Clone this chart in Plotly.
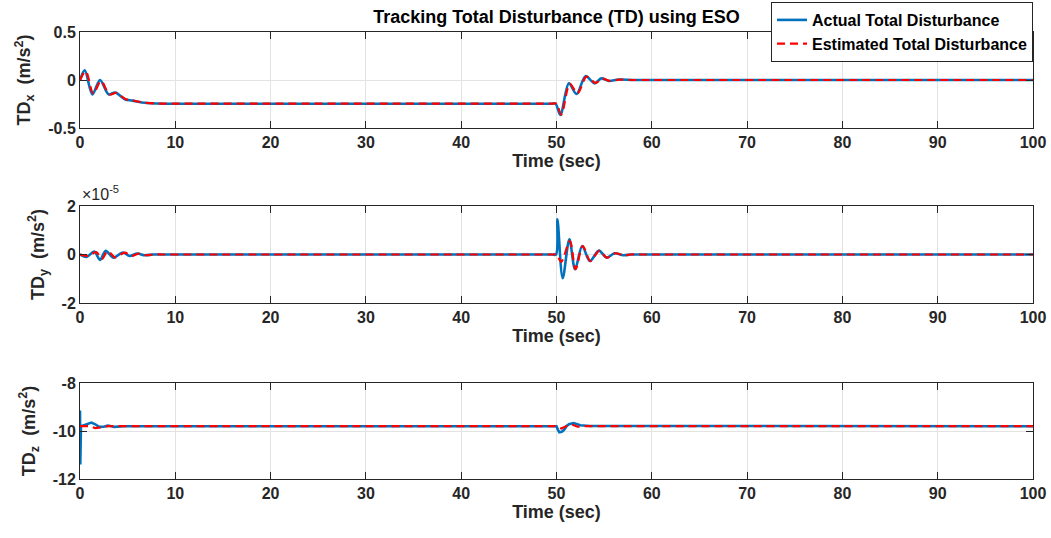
import plotly.graph_objects as go
from plotly.subplots import make_subplots

# ---------------- data ----------------
# TDx (m/s^2)
t_x_act = [0, 0.5, 1.3, 2.1, 3.0, 3.7, 4.7, 5.5, 6.5, 8, 9, 10, 49.4, 49.9, 50.4, 51.3, 52.1, 53.05, 54.0, 54.7, 55.5, 56.5, 58, 59, 100]
x_act = [0, 0.10, -0.15, 0.0, -0.15, -0.13, -0.20, -0.215, -0.235, -0.245, -0.247, -0.247, -0.247, -0.247, -0.365, -0.035, -0.146, 0.04, -0.035, 0.017, -0.01, 0.005, 0, 0, 0]
t_x_est = [0, 0.6, 1.4, 2.2, 3.1, 3.8, 4.8, 5.6, 6.6, 8.1, 9, 10, 49.5, 50.0, 50.5, 51.4, 52.2, 53.15, 54.1, 54.8, 55.6, 56.6, 58, 59, 100]
x_est = [0, 0.09, -0.14, -0.01, -0.15, -0.135, -0.20, -0.215, -0.235, -0.245, -0.247, -0.247, -0.247, -0.247, -0.36, -0.04, -0.14, 0.035, -0.03, 0.015, -0.01, 0.004, 0, 0, 0]

# TDy (units of 1e-5 m/s^2)
t_y_act = [0, 0.7, 1.5, 2.1, 2.7, 3.5, 4.5, 5.2, 6.0, 6.8, 7.6, 8.5, 49.5, 49.95, 50.1, 50.65, 51.35, 51.95, 52.7, 53.5, 54.45, 55.25, 56.1, 57.0, 57.8, 58.6, 100]
y_act = [0, -0.10, 0.12, -0.22, 0.15, -0.13, 0.08, -0.06, 0.04, -0.03, 0, 0, 0, 0, 1.45, -0.98, 0.63, -0.61, 0.35, -0.27, 0.16, -0.13, 0.05, -0.03, 0, 0, 0]
t_y_est = [0, 0.9, 1.7, 2.3, 2.9, 3.7, 4.7, 5.4, 6.2, 7.0, 7.8, 8.7, 49.5, 50.0, 50.5, 51.4, 52.0, 52.75, 53.55, 54.5, 55.3, 56.15, 57.05, 57.8, 58.6, 100]
y_est = [0, -0.05, 0.10, -0.18, 0.14, -0.12, 0.08, -0.06, 0.04, -0.03, 0, 0, 0, 0, -0.3, 0.55, -0.6, 0.35, -0.27, 0.16, -0.13, 0.05, -0.03, 0, 0, 0]

# TDz (m/s^2)
t_z_act = [0, 0.03, 0.1, 0.4, 0.8, 1.2, 1.6, 2.0, 2.5, 2.9, 3.3, 3.6, 4.5, 50.0, 50.15, 50.3, 50.55, 50.8, 51.05, 51.3, 51.8, 52.2, 52.5, 53.5, 100]
z_act = [-9.15, -11.4, -9.8, -9.76, -9.7, -9.65, -9.72, -9.83, -9.82, -9.77, -9.8, -9.83, -9.8, -9.8, -9.95, -10.05, -10.03, -9.95, -9.8, -9.72, -9.67, -9.73, -9.76, -9.79, -9.8]
t_z_est = [0, 1.0, 1.6, 2.2, 3.0, 50.0, 50.5, 51.0, 51.6, 52.2, 53.0, 100]
z_est = [-9.8, -9.8, -9.88, -9.84, -9.8, -9.8, -9.9, -9.8, -9.72, -9.82, -9.8, -9.8]

x_ticks = [0, 10, 20, 30, 40, 50, 60, 70, 80, 90, 100]

BLUE = "#0072BD"
RED = "#FF0000"
FONT = "Liberation Sans, Arial, sans-serif"
AXC = "#262626"
GRID = "#e3e3e3"

fig = make_subplots(rows=3, cols=1, vertical_spacing=0.1)

def add_pair(row, ta, ya, te, ye, shape, show):
    fig.add_trace(go.Scatter(x=ta, y=ya, mode="lines", name="Actual Total Disturbance",
                             line=dict(color=BLUE, width=2.6, shape=shape, smoothing=0.9),
                             showlegend=show), row=row, col=1)
    fig.add_trace(go.Scatter(x=te, y=ye, mode="lines", name="Estimated Total Disturbance",
                             line=dict(color=RED, width=2.2, dash="8px,5px", shape=shape, smoothing=0.9),
                             showlegend=show), row=row, col=1)

add_pair(1, t_x_act, x_act, t_x_est, x_est, "spline", True)
add_pair(2, t_y_act, y_act, t_y_est, y_est, "spline", False)
add_pair(3, t_z_act, z_act, t_z_est, z_est, "linear", False)

# layout geometry (pixels -> paper)
W, H = 1051, 538
ml, mr, mt, mb = 80, 18, 32, 59
ph = H - mt - mb
def dom(top_px, bot_px):
    return [1 - (bot_px - mt) / ph, 1 - (top_px - mt) / ph]

domains = [dom(32, 128), dom(206, 303), dom(383, 479)]

axis_common = dict(showline=True, linecolor=AXC, linewidth=1, mirror="ticks",
                   ticks="inside", ticklen=7, tickcolor=AXC, tickwidth=1,
                   showgrid=True, gridcolor=GRID, gridwidth=1, zeroline=False,
                   automargin=False,
                   tickfont=dict(family=FONT, size=16, color=AXC, weight="bold"))

ytitles = ["TD<sub>x</sub>  (m/s<sup>2</sup>)", "TD<sub>y</sub>  (m/s<sup>2</sup>)", "TD<sub>z</sub>  (m/s<sup>2</sup>)"]
yranges = [[-0.5, 0.5], [-2, 2], [-12, -8]]
yticks = [[-0.5, 0, 0.5], [-2, 0, 2], [-12, -10, -8]]
yticktext = [["-0.5", "0", "0.5"], ["-2", "0", "2"], ["-12", "-10", "-8"]]

for i in range(3):
    n = "" if i == 0 else str(i + 1)
    fig.layout["xaxis" + n].update(
        range=[0, 100], tickvals=x_ticks, domain=[0, 1],
        title=dict(text="Time (sec)", standoff=2,
                   font=dict(family=FONT, size=18, color=AXC, weight="bold")),
        **axis_common)
    fig.layout["yaxis" + n].update(
        range=yranges[i], tickvals=yticks[i], ticktext=yticktext[i], domain=domains[i],
        title=dict(text=ytitles[i], standoff=12,
                   font=dict(family=FONT, size=18, color=AXC, weight="bold")),
        **axis_common)

fig.add_annotation(text="×10<sup>-5</sup>", xref="paper", yref="paper",
                   x=0.0, y=domains[1][1] + 1 / ph, xanchor="left", yanchor="bottom",
                   showarrow=False, font=dict(family=FONT, size=16, color=AXC))

fig.update_layout(
    width=W, height=H,
    margin=dict(l=ml, r=mr, t=mt, b=mb, autoexpand=False),
    paper_bgcolor="white", plot_bgcolor="white",
    title=dict(text="Tracking Total Disturbance (TD) using ESO", x=0.5, xref="paper",
               y=1 - 17 / H, yanchor="middle",
               font=dict(family=FONT, size=18, color="black", weight="bold")),
    legend=dict(x=1.0, xanchor="right", y=1 + 30 / ph, yanchor="top",
                bgcolor="white", bordercolor=AXC, borderwidth=1,
                font=dict(family=FONT, size=16, color="black", weight="bold"),
                tracegroupgap=0, itemwidth=30),
    showlegend=True,
)

fig.write_html("out.html", config={"displayModeBar": False},
               post_script="document.body.style.margin='0';document.body.style.padding='0';")
